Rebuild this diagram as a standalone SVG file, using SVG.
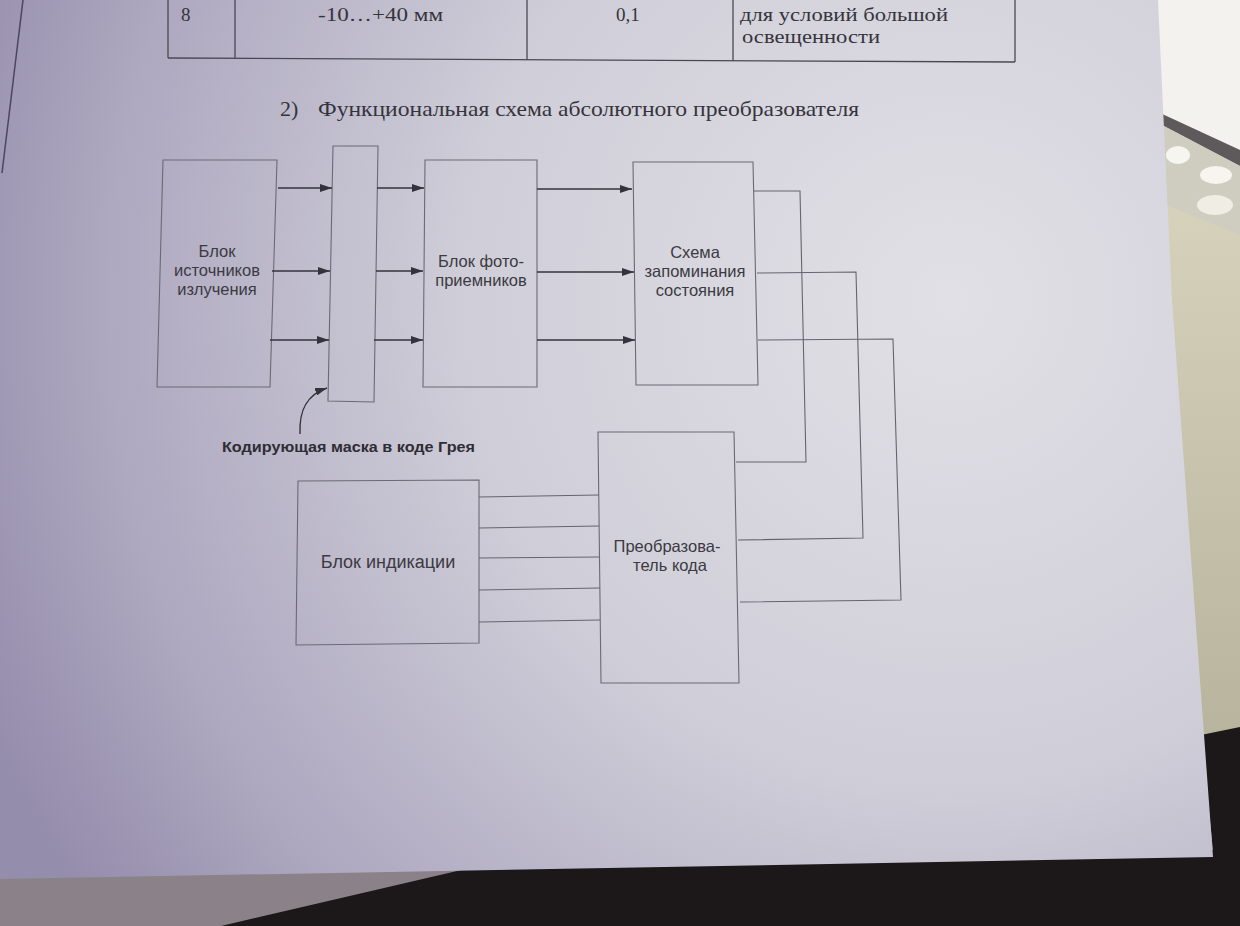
<svg xmlns="http://www.w3.org/2000/svg" width="1240" height="926" viewBox="0 0 1240 926">
<defs>
<radialGradient id="paperG" gradientUnits="userSpaceOnUse" cx="950" cy="300" r="1050">
<stop offset="0" stop-color="#e1e0e6"/>
<stop offset="0.45" stop-color="#d0cfd9"/>
<stop offset="0.8" stop-color="#aea8c0"/>
<stop offset="1" stop-color="#958dac"/>
</radialGradient>
<linearGradient id="khakiG" x1="0" y1="0" x2="0" y2="1">
<stop offset="0" stop-color="#e2ddc6"/>
<stop offset="1" stop-color="#aea993"/>
</linearGradient>
<marker id="ah" viewBox="0 0 12 8" refX="12" refY="4" markerWidth="12" markerHeight="8" markerUnits="userSpaceOnUse" orient="auto">
<path d="M0,0 L12,4 L0,8 Z" fill="#34333b"/>
</marker>
<style>
.box{fill:none;stroke:#6b6a74;stroke-width:1.1}
.arr{fill:none;stroke:#34333b;stroke-width:1.4;marker-end:url(#ah)}
.wire{fill:none;stroke:#66656e;stroke-width:1.1}
.lbl{font-family:"Liberation Sans",Arial,sans-serif;font-size:16.5px;fill:#3b3a42;text-anchor:middle}
.big{font-size:18px}
.bold{font-family:"Liberation Sans",Arial,sans-serif;font-size:15px;font-weight:bold;fill:#2e2d34}
.serif{font-family:"Liberation Serif","Times New Roman",serif;fill:#35343c}
.tbl{fill:none;stroke:#4a4952;stroke-width:1.3}
</style>
</defs>

<!-- background scene -->
<rect x="0" y="0" width="1240" height="926" fill="url(#khakiG)"/>
<polygon points="1150,0 1240,0 1240,150 1160,113" fill="#f3f2ef"/>
<polygon points="1160,113 1240,150 1240,166 1162,125" fill="#5e5a5c"/>
<polygon points="1162,125 1240,166 1240,235 1166,205" fill="#cfccc0"/>
<ellipse cx="1178" cy="155" rx="12" ry="9" fill="#f6f5f0"/>
<ellipse cx="1216" cy="175" rx="16" ry="9" fill="#f6f5f0"/>
<ellipse cx="1215" cy="205" rx="18" ry="10" fill="#efede4"/>
<rect x="0" y="840" width="1240" height="86" fill="#8a8288"/>
<polygon points="221,926 470,868 1213,850 1201,735 1240,727 1240,926" fill="#1c1719"/>

<!-- paper -->
<polygon points="0,0 1158,0 1172,300 1213,857 0,879" fill="url(#paperG)"/>
<line x1="23" y1="0" x2="2" y2="173" stroke="#4b4560" stroke-width="1.5"/>

<!-- table fragment -->
<g id="table">
<line class="tbl" x1="168" y1="58" x2="1015" y2="62"/>
<line class="tbl" x1="168" y1="0" x2="168" y2="58"/>
<line class="tbl" x1="235" y1="0" x2="235" y2="58"/>
<line class="tbl" x1="527" y1="0" x2="527" y2="60"/>
<line class="tbl" x1="733" y1="0" x2="733" y2="61"/>
<line class="tbl" x1="1015" y1="0" x2="1015" y2="62"/>
<text class="serif" x="181" y="21" font-size="19">8</text>
<text class="serif" x="318" y="21" font-size="19" textLength="125" lengthAdjust="spacingAndGlyphs">-10…+40 мм</text>
<text class="serif" x="616" y="21" font-size="19">0,1</text>
<text class="serif" x="740" y="21" font-size="19" textLength="208" lengthAdjust="spacingAndGlyphs">для условий большой</text>
<text class="serif" x="742" y="43" font-size="19" textLength="138" lengthAdjust="spacingAndGlyphs">освещенности</text>
</g>

<g id="title">
<text class="serif" x="280" y="116" font-size="22">2)</text>
<text class="serif" x="318" y="116" font-size="22" textLength="541" lengthAdjust="spacingAndGlyphs">Функциональная схема абсолютного преобразователя</text>
</g>

<!-- nodes -->
<g id="node-sources">
<polygon class="box" points="163,160 277,160 270,387 157,387"/>
<text class="lbl" x="217" y="257">Блок</text>
<text class="lbl" x="217" y="276">источников</text>
<text class="lbl" x="217" y="295">излучения</text>
</g>
<g id="node-mask">
<polygon class="box" points="333,146 378,146 374,402 328,401"/>
</g>
<g id="node-mask-label">
<text class="bold" x="222" y="452" textLength="253" lengthAdjust="spacingAndGlyphs">Кодирующая маска в коде Грея</text>
</g>
<g id="node-photo">
<polygon class="box" points="425,160 537,160 537,387 423,387"/>
<text class="lbl" x="481" y="267">Блок фото-</text>
<text class="lbl" x="481" y="286">приемников</text>
</g>
<g id="node-memory">
<polygon class="box" points="633,162 753,162 758,385 636,385"/>
<text class="lbl" x="695" y="258">Схема</text>
<text class="lbl" x="695" y="277">запоминания</text>
<text class="lbl" x="695" y="296">состояния</text>
</g>
<g id="node-display">
<polygon class="box" points="298,481 479,480 479,643 296,645"/>
<text class="lbl big" x="388" y="568">Блок индикации</text>
</g>
<g id="node-converter">
<polygon class="box" points="598,432 734,432 739,683 601,683"/>
<text class="lbl" x="667" y="552">Преобразова-</text>
<text class="lbl" x="670" y="571">тель кода</text>
</g>

<!-- connectors -->
<g id="connectors">
<line class="arr" x1="278" y1="188" x2="332" y2="188"/>
<line class="arr" x1="272" y1="271" x2="330" y2="271"/>
<line class="arr" x1="270" y1="340" x2="329" y2="340"/>
<line class="arr" x1="377" y1="188" x2="424" y2="188"/>
<line class="arr" x1="376" y1="271" x2="423" y2="271"/>
<line class="arr" x1="374" y1="340" x2="423" y2="340"/>
<line class="arr" x1="537" y1="189" x2="632" y2="189"/>
<line class="arr" x1="537" y1="272" x2="634" y2="272"/>
<line class="arr" x1="537" y1="340" x2="635" y2="340"/>
<path class="arr" d="M300,434 C299,411 306,395 327,388"/>
<polyline class="wire" points="754,191 800,191 806,462 736,462"/>
<polyline class="wire" points="757,273 856,272 863,538 738,540"/>
<polyline class="wire" points="758,340 893,339 901,600 740,602"/>
<line class="wire" x1="479" y1="497" x2="599" y2="495"/>
<line class="wire" x1="479" y1="528" x2="599" y2="526"/>
<line class="wire" x1="479" y1="558" x2="600" y2="557"/>
<line class="wire" x1="479" y1="590" x2="600" y2="588"/>
<line class="wire" x1="479" y1="622" x2="600" y2="620"/>
</g>
</svg>
